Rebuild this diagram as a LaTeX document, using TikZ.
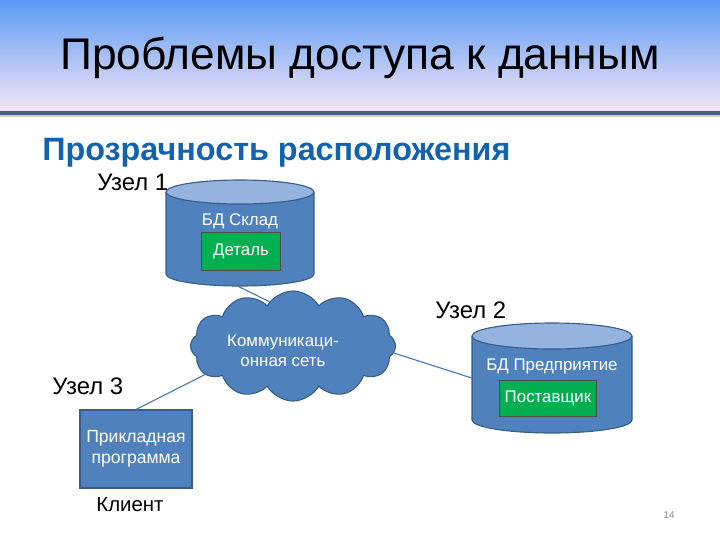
\documentclass[tikz,border=0pt]{standalone}
\usepackage{fontspec}
\setmainfont{Liberation Sans}
\usepackage{xcolor}
\usetikzlibrary{positioning}
\usetikzlibrary{shapes.geometric,shapes.symbols}

\definecolor{dbblue}{HTML}{4F81BD}
\definecolor{dbedge}{HTML}{385D8A}
\definecolor{dbtop}{HTML}{95B3DE}
\definecolor{tblgreen}{HTML}{00B050}
\definecolor{subblue}{HTML}{1163B0}
\definecolor{linkblue}{HTML}{4A78B0}
\definecolor{bandtop}{RGB}{90,154,245}
\definecolor{bandbot}{RGB}{245,230,245}
\definecolor{bandline}{RGB}{70,92,128}

\def\px{0.025cm}

\tikzset{
  dbarea/.style={rectangle,inner sep=0pt},
  dbline/.style={draw=dbedge,thick},
  tbl/.style={rectangle,draw=black!70,fill=tblgreen,text=white,
    font=\fontsize{12}{14}\selectfont},
  inner/.style={text=white,font=\fontsize{12}{14}\selectfont,align=center},
  place/.style={font=\fontsize{17}{20}\selectfont},
  link/.style={draw=linkblue,thick}
}

\begin{document}
\begin{tikzpicture}[x=\px,y=-\px]
	\useasboundingbox (0,0) rectangle (720,540);
	% title band
	\shade[top color=bandtop,bottom color=bandbot] (0,0) rectangle (720,111);
	\fill[bandline] (0,111) rectangle (720,115);
	\fill[black!20] (0,115) rectangle (720,117);
	\node (title) at (360,58) {\fontsize{31.5}{38}\selectfont Проблемы доступа к данным};
	\node[anchor=base west,text=subblue,inner sep=0pt] (sub) at (42,160)
	  {\fontsize{23}{27}\selectfont\bfseries Прозрачность расположения};
%
	% node 1: cylinder x 166..314, ends at y 192 and 274
	\def\l{166}\def\r{314}\def\t{192}\def\b{274}\def\ry{12}
	\fill[dbblue] (\l,\t) -- (\l,\b) arc[start angle=180,end angle=0,x radius=74,y radius=\ry] -- (\r,\t) -- cycle;
	\draw[dbline] (\l,\t) -- (\l,\b) arc[start angle=180,end angle=0,x radius=74,y radius=\ry] -- (\r,\t);
	\draw[dbline,fill=dbtop] (240,\t) ellipse[x radius=74,y radius=\ry];
	\node[dbarea,minimum width=148*\px,minimum height=106*\px] (db1) at (240,233) {};
	\node[inner] (db1name) at (240,221) {БД Склад};
	\node[tbl,minimum width=79*\px,minimum height=38*\px] (t1) at (241,251) {Деталь};
	\node[place,anchor=base west,inner sep=0pt] (n1) at (97,190) {Узел 1};
%
	% node 2: cylinder x 472..632, ends at y 336 and 420
	\def\l{472}\def\r{632}\def\t{336}\def\b{420}\def\ry{13}
	\fill[dbblue] (\l,\t) -- (\l,\b) arc[start angle=180,end angle=0,x radius=80,y radius=\ry] -- (\r,\t) -- cycle;
	\draw[dbline] (\l,\t) -- (\l,\b) arc[start angle=180,end angle=0,x radius=80,y radius=\ry] -- (\r,\t);
	\draw[dbline,fill=dbtop] (552,\t) ellipse[x radius=80,y radius=\ry];
	\node[dbarea,minimum width=160*\px,minimum height=110*\px] (db2) at (552,378) {};
	\node[inner] (db2name) at (552,366) {БД Предприятие};
	\node[tbl,minimum width=97*\px,minimum height=36*\px] (t2) at (548,398) {Поставщик};
	\node[place,anchor=base west,inner sep=0pt] (n2) at (435,318) {Узел 2};
%
	% network
	\node[cloud,cloud puffs=12,cloud puff arc=120,aspect=1.9,draw=dbedge,thick,fill=dbblue,
	  minimum width=205*\px,minimum height=110*\px] (net) at (293,346) {};
	\node[inner] (netname) at (283,351) {Коммуникаци-\\онная сеть};
%
	% node 3
	\node[rectangle,draw=dbedge,thick,fill=dbblue,minimum width=112*\px,minimum height=78*\px,
	  inner,font=\fontsize{12.5}{15}\selectfont] (app) at (136,449) {Прикладная\\программа};
	\node[place,anchor=base west,inner sep=0pt] (n3) at (52,394) {Узел 3};
	\node[font=\fontsize{14.5}{16}\selectfont] (cl) at (130,505) {Клиент};
%
	\draw[link] ([xshift=-2*\px]db1.south) -- (net.118);
	\draw[link] (net.-4) -- (db2.west);
	\draw[link] (net.198) -- (app.north);
%
	\node[text=black!45,font=\fontsize{7}{8}\selectfont] (page) at (669,515) {14};
\end{tikzpicture}
\end{document}
